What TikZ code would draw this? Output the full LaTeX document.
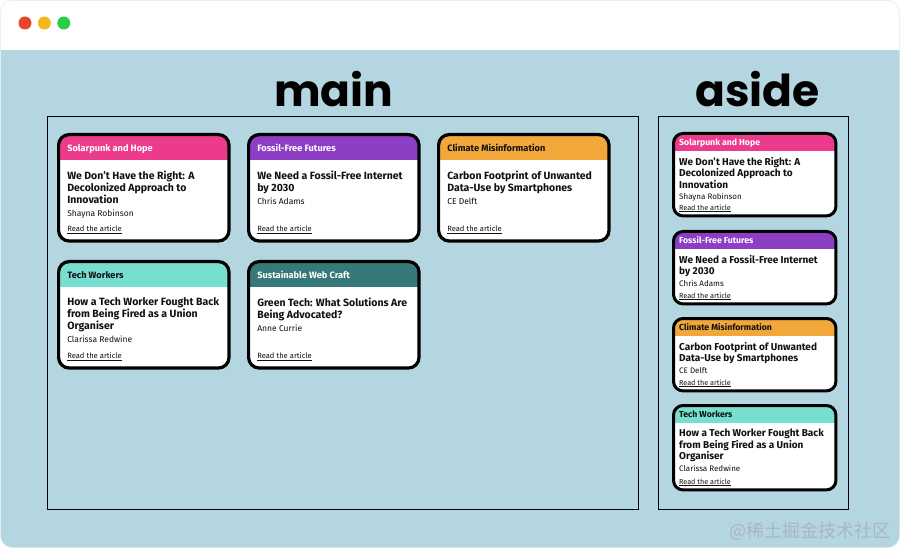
\documentclass[tikz,border=0pt]{standalone}
\usepackage{fontspec}
\setmainfont{Fira Sans}
\newfontfamily\labelfont{Poppins}
\newfontfamily\cjkfont{Noto Sans CJK SC}
\usetikzlibrary{positioning}

\definecolor{pagebg}{HTML}{B4D6E1}
\definecolor{framegray}{HTML}{E2E6E8}
\definecolor{dotred}{HTML}{E8452C}
\definecolor{dotyellow}{HTML}{F5B81C}
\definecolor{dotgreen}{HTML}{28CE49}
\definecolor{solarpink}{HTML}{EC3B8D}
\definecolor{fossilpurple}{HTML}{8C3EC5}
\definecolor{climateorange}{HTML}{F2A73B}
\definecolor{techteal}{HTML}{76DFCF}
\definecolor{webteal}{HTML}{37797A}
\definecolor{inkblack}{HTML}{111111}
\definecolor{markgray}{HTML}{A9B8BE}

\newlength{\cardradius}
\newlength{\topicheight}
\newlength{\topicbase}
\newlength{\cardpad}
\newlength{\titletop}
\newlength{\bylinegap}
\newlength{\readgap}

\tikzset{
  card/.style={fill=white, rounded corners=\cardradius, inner sep=0pt, minimum width=170pt},
  cardedge/.style={draw=black, line width=3.2pt, rounded corners=\cardradius},
  topic/.style={font=\bfseries\fontsize{9.2}{10}\selectfont, inner sep=0pt, anchor=base west},
  headline/.style={font=\bfseries\fontsize{10.5}{12}\selectfont, text=inkblack, align=left, inner sep=0pt},
  byline/.style={font=\fontsize{8.5}{10}\selectfont, text=inkblack, inner sep=0pt, anchor=base west},
  readlink/.style={font=\fontsize{7.6}{9}\selectfont, text=inkblack, inner sep=0pt},
  areabox/.style={draw=black, line width=0.8pt, inner sep=0pt, anchor=north west},
  arealabel/.style={font=\labelfont\bfseries\fontsize{44}{44}\selectfont, anchor=base, inner sep=0pt},
  windowdot/.style={circle, inner sep=0pt, minimum size=13pt},
}

% one article card: name, corner, height, topic fill, topic text, topic, title, author
\newcommand{\articlecard}[8]{%
  \node[card, minimum height=#3, anchor=north west] (#1) at #2 {};
  \begin{scope}
    \clip[rounded corners=\cardradius] (#1.north west) rectangle (#1.south east);
    \fill[#4] (#1.north west) rectangle ([yshift=-\topicheight]#1.north east);
  \end{scope}
  \draw[cardedge] (#1.north west) rectangle (#1.south east);
  \node[topic, text=#5] (#1-topic) at ([xshift=\cardpad, yshift=-\topicbase]#1.north west) {#6};
  \node[headline, anchor=north west] (#1-title) at ([xshift=\cardpad, yshift=-\titletop]#1.north west) {#7};
  \node[byline] (#1-author) at ([yshift=-\bylinegap]#1-title.base west) {#8};
  \node[readlink, anchor=west] (#1-read) at ([xshift=\cardpad, yshift=\readgap]#1.south west) {\underline{Read the article}};
}

\begin{document}
\begin{tikzpicture}[x=1pt, y=-1pt]
  \useasboundingbox (0,0) rectangle (900,548);
  \fill[white] (0,0) rectangle (900,548);

  % browser window
  \begin{scope}
    \clip[rounded corners=12pt] (0.5,0.5) rectangle (899.5,547.5);
    \fill[pagebg] (0,0) rectangle (900,548);
    \fill[white] (0,0) rectangle (900,50);
  \end{scope}
  \draw[framegray, rounded corners=12pt] (0.5,0.5) rectangle (899.5,547.5);
  \node[windowdot, fill=dotred] (close) at (25,23) {};
  \node[windowdot, fill=dotyellow, right=6pt of close] (minimise) {};
  \node[windowdot, fill=dotgreen, right=6pt of minimise] (zoom) {};

  % layout areas
  \node[areabox, minimum width=591pt, minimum height=393pt] (mainarea) at (47,116) {};
  \node[areabox, minimum width=190pt, minimum height=393pt] (asidearea) at (658,116) {};
  \node[arealabel] (mainlabel) at ([xshift=-9pt, yshift=9pt]mainarea.north) {main};
  \node[arealabel] (asidelabel) at ([xshift=4pt, yshift=9pt]asidearea.north) {aside};

  % main cards
  \begin{scope}
    \setlength{\cardradius}{10.5pt}
    \setlength{\topicheight}{25.5pt}
    \setlength{\topicbase}{16.6pt}
    \setlength{\cardpad}{8.5pt}
    \setlength{\titletop}{35.8pt}
    \setlength{\bylinegap}{13.3pt}
    \setlength{\readgap}{11.5pt}
    \articlecard{mainsolar}{(58.6,134.6)}{106pt}{solarpink}{white}{Solarpunk and Hope}
      {We Don't Have the Right: A\\Decolonized Approach to\\Innovation}{Shayna Robinson}
    \articlecard{mainfossil}{(248.6,134.6)}{106pt}{fossilpurple}{white}{Fossil-Free Futures}
      {We Need a Fossil-Free Internet\\by 2030}{Chris Adams}
    \articlecard{mainclimate}{(438.6,134.6)}{106pt}{climateorange}{inkblack}{Climate Misinformation}
      {Carbon Footprint of Unwanted\\Data-Use by Smartphones}{CE Delft}
    \articlecard{maintech}{(58.6,261.6)}{106pt}{techteal}{inkblack}{Tech Workers}
      {How a Tech Worker Fought Back\\from Being Fired as a Union\\Organiser}{Clarissa Redwine}
    \articlecard{mainweb}{(248.6,261.6)}{106pt}{webteal}{white}{Sustainable Web Craft}
      {Green Tech: What Solutions Are\\Being Advocated?}{Anne Currie}
  \end{scope}

  % aside cards
  \begin{scope}[card/.append style={minimum width=162pt},
      cardedge/.append style={line width=3pt},
      topic/.append style={font=\bfseries\fontsize{8.7}{9.5}\selectfont},
      headline/.append style={font=\bfseries\fontsize{10}{11.5}\selectfont},
      byline/.append style={font=\fontsize{8}{9.5}\selectfont},
      readlink/.append style={font=\fontsize{7.2}{8.5}\selectfont}]
    \setlength{\cardradius}{9.5pt}
    \setlength{\topicheight}{17.5pt}
    \setlength{\topicbase}{12.1pt}
    \setlength{\cardpad}{5.5pt}
    \setlength{\titletop}{23.6pt}
    \setlength{\bylinegap}{11.3pt}
    \setlength{\readgap}{7.5pt}
    \articlecard{asidesolar}{(673.5,133.5)}{82pt}{solarpink}{white}{Solarpunk and Hope}
      {We Don't Have the Right: A\\Decolonized Approach to\\Innovation}{Shayna Robinson}
    \articlecard{asidefossil}{(673.5,231.5)}{72pt}{fossilpurple}{white}{Fossil-Free Futures}
      {We Need a Fossil-Free Internet\\by 2030}{Chris Adams}
    \articlecard{asideclimate}{(673.5,318.5)}{72pt}{climateorange}{inkblack}{Climate Misinformation}
      {Carbon Footprint of Unwanted\\Data-Use by Smartphones}{CE Delft}
    \articlecard{asidetech}{(673.5,405.5)}{84pt}{techteal}{inkblack}{Tech Workers}
      {How a Tech Worker Fought Back\\from Being Fired as a Union\\Organiser}{Clarissa Redwine}
  \end{scope}

  \node[font=\cjkfont\fontsize{18}{18}\selectfont, text=markgray, anchor=east, inner sep=0pt] (watermark) at (891,531) {@稀土掘金技术社区};
\end{tikzpicture}
\end{document}
